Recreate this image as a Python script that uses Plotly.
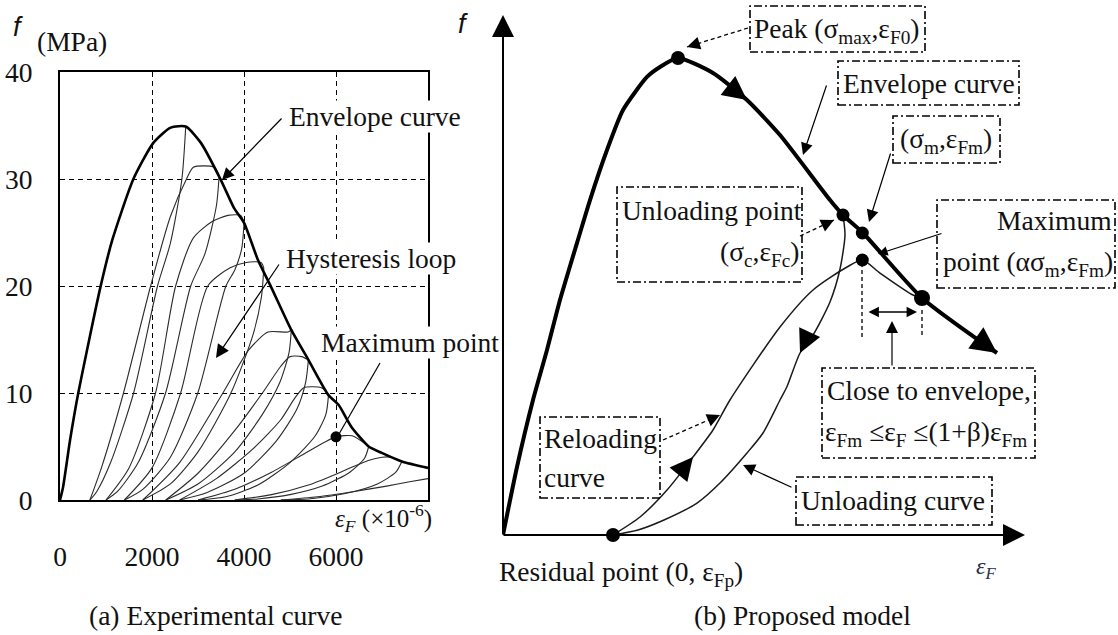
import plotly.graph_objects as go

W, H = 1118, 635
SERIF = "Liberation Serif, Tinos, Times New Roman, DejaVu Serif, serif"
INK = "#111111"

# ---------------- (a) experimental record: strain (x1e-6) vs stress (MPa) ----------------
env_strain = [0, 66, 219, 393, 874, 1137, 1596, 2033, 2405, 2733, 3060, 3498, 3782, 4001,
              4306, 4590, 5028, 5400, 5837, 6055, 6340, 6711, 6995, 7432, 8000]
env_stress = [0, 1.2, 5.6, 9.9, 19.8, 24.3, 30.0, 33.4, 34.8, 34.9, 33.4, 29.9, 27.3, 25.9,
              22.4, 19.9, 15.9, 13.1, 9.8, 8.9, 6.8, 5.0, 4.4, 3.6, 3.0]

# unloading branches of the hysteresis loops
unload_strain = [
    [2733, 2650, 2400, 2120, 1600, 1100, 800, 650],
    [3460, 3400, 3150, 2842, 2295, 1700, 1250, 1000],
    [4001, 3950, 3800, 3607, 2995, 2400, 1800, 1400],
    [4430, 4380, 4200, 3716, 3000, 2400, 1800],
    [5028, 4980, 4780, 4400, 3800, 3000, 2300],
    [5400, 5340, 5150, 4700, 4000, 3200, 2600],
    [5837, 5780, 5550, 5000, 4300, 3600, 3000],
    [6711, 6620, 6300, 5700, 5000, 4300, 3800],
    [7432, 7300, 6900, 6200, 5400, 4800],
]
unload_stress = [
    [34.9, 30.0, 24.0, 20.0, 10.0, 3.5, 0.8, 0],
    [30.3, 27.5, 23.0, 20.0, 10.0, 3.5, 0.8, 0],
    [25.9, 23.5, 21.5, 20.0, 10.0, 4.0, 1.0, 0],
    [21.7, 19.0, 15.5, 10.0, 4.5, 1.5, 0],
    [15.9, 13.8, 11.0, 8.0, 4.5, 1.5, 0],
    [13.1, 11.0, 8.5, 5.5, 2.5, 0.7, 0],
    [9.8, 8.0, 6.0, 3.5, 1.4, 0.3, 0],
    [5.0, 3.9, 2.6, 1.3, 0.5, 0.1, 0],
    [3.6, 2.6, 1.5, 0.6, 0.1, 0],
]

# reloading branches of the hysteresis loops
reload_strain = [
    [650, 900, 1380, 1970, 2400, 2750, 2900, 3350, 3460],
    [1000, 1500, 2077, 2514, 2900, 3300, 3650, 3930, 4001],
    [1400, 2000, 2623, 3213, 3700, 4050, 4370, 4430],
    [1800, 2600, 3541, 4100, 4520, 4960, 5028],
    [2300, 3000, 3800, 4400, 4800, 5000, 5250, 5400],
    [2600, 3400, 4200, 4800, 5100, 5300, 5680, 5800],
    [3000, 3800, 4600, 5300, 5750, 6000, 6350, 6711],
    [3800, 4600, 5400, 6100, 6700, 7000, 7200, 7432],
    [4800, 5600, 6400, 7100, 7600, 8000],
]
reload_stress = [
    [0, 3.0, 10.0, 20.0, 26.5, 30.0, 31.1, 31.1, 30.3],
    [0, 3.0, 10.0, 20.0, 24.5, 26.0, 26.6, 26.6, 25.9],
    [0, 3.0, 10.0, 20.0, 21.7, 22.2, 22.2, 21.7],
    [0, 3.5, 10.0, 14.0, 15.7, 15.7, 15.9],
    [0, 2.5, 6.5, 10.0, 12.5, 13.4, 13.4, 13.1],
    [0, 2.0, 4.8, 7.5, 9.5, 10.5, 10.5, 10.1],
    [0, 1.0, 2.6, 4.3, 5.4, 5.9, 6.0, 5.0],
    [0, 0.5, 1.4, 2.6, 3.7, 4.0, 4.0, 3.6],
    [0, 0.3, 0.8, 1.3, 1.7, 2.0],
]

max_point_strain = [6000]
max_point_stress = [5.9]

x_ticks = [0, 2000, 4000, 6000]
x_ticklabels = ["0", "2000", "4000", "6000"]
y_ticks = [0, 10, 20, 30, 40]
y_ticklabels = ["0", "10", "20", "30", "40"]

# ---------------- (b) proposed model: normalised strain / stress ----------------
model_env_strain = [0, 2.69, 5.77, 8.46, 10.96, 14.81, 16.73, 20.0, 23.08, 27.69, 30.19, 33.65,
                    40.38, 46.92, 53.27, 62.88, 65.38, 69.23, 80.58, 95.0]
model_env_stress = [0, 13.08, 25.96, 35.58, 45.19, 58.08, 64.42, 74.04, 81.73, 88.08, 90.0, 91.73,
                    88.85, 83.65, 76.92, 64.42, 61.54, 58.08, 45.58, 35.0]

model_reload_strain = [21.15, 26.35, 31.54, 36.54, 40.38, 43.65, 53.27, 59.62, 66.15, 69.1,
                       72.5, 78.85, 80.58]
model_reload_stress = [0, 3.46, 8.65, 15.0, 20.19, 25.96, 40.0, 47.12, 51.54, 52.88,
                       50.38, 46.15, 45.58]

model_unload_strain = [65.38, 65.77, 64.81, 62.88, 59.62, 57.12, 54.6, 53.27, 50.0, 46.92,
                       41.73, 37.31, 30.96, 25.96, 21.15]
model_unload_stress = [61.54, 57.69, 51.15, 44.81, 38.46, 35.0, 28.5, 25.96, 19.62, 15.77,
                       10.0, 6.15, 2.88, 0.96, 0]

# peak, unloading point, (sigma_m, eps_Fm), maximum point, return to envelope, residual point
key_strain = [33.65, 65.38, 69.1, 69.1, 80.58, 21.15]
key_stress = [91.73, 61.54, 58.08, 52.88, 45.58, 0]
key_size = [14, 13, 13, 13, 16, 14]


def px(x):
    return x / W


def py(y):
    return 1 - y / H


fig = go.Figure()

# ----- panel (a) -----
for xs, ys in zip(unload_strain, unload_stress):
    fig.add_trace(go.Scatter(x=xs, y=ys, mode="lines", xaxis="x", yaxis="y",
                             line=dict(color="#2b2b2b", width=1.1, shape="spline", smoothing=0.7),
                             hoverinfo="skip"))
for xs, ys in zip(reload_strain, reload_stress):
    fig.add_trace(go.Scatter(x=xs, y=ys, mode="lines", xaxis="x", yaxis="y",
                             line=dict(color="#2b2b2b", width=1.1, shape="spline", smoothing=0.7),
                             hoverinfo="skip"))
fig.add_trace(go.Scatter(x=env_strain, y=env_stress, mode="lines", xaxis="x", yaxis="y",
                         line=dict(color="black", width=2.6, shape="spline", smoothing=0.6),
                         hoverinfo="skip"))
fig.add_trace(go.Scatter(x=max_point_strain, y=max_point_stress, mode="markers", xaxis="x", yaxis="y",
                         marker=dict(color="black", size=11, opacity=1, line=dict(width=0)),
                         hoverinfo="skip"))

# ----- panel (b) -----
fig.add_trace(go.Scatter(x=model_reload_strain, y=model_reload_stress, mode="lines", xaxis="x2", yaxis="y2",
                         line=dict(color="#1a1a1a", width=1.5, shape="spline", smoothing=0.7),
                         hoverinfo="skip", cliponaxis=False))
fig.add_trace(go.Scatter(x=model_unload_strain, y=model_unload_stress, mode="lines", xaxis="x2", yaxis="y2",
                         line=dict(color="#1a1a1a", width=1.5, shape="spline", smoothing=0.7),
                         hoverinfo="skip", cliponaxis=False))
fig.add_trace(go.Scatter(x=model_env_strain, y=model_env_stress, mode="lines", xaxis="x2", yaxis="y2",
                         line=dict(color="black", width=4, shape="spline", smoothing=0.6),
                         hoverinfo="skip", cliponaxis=False))
fig.add_trace(go.Scatter(x=key_strain, y=key_stress, mode="markers", xaxis="x2", yaxis="y2",
                         marker=dict(color="black", size=key_size, opacity=1, line=dict(width=0)),
                         hoverinfo="skip", cliponaxis=False))

shapes = []
annotations = []


def label(text, x, y, xanchor="left", size=27.5, bg="rgba(0,0,0,0)", family=SERIF, color=INK):
    annotations.append(dict(text=text, x=px(x), y=py(y), xref="paper", yref="paper",
                            xanchor=xanchor, yanchor="middle", showarrow=False, bgcolor=bg,
                            borderpad=0, font=dict(family=family, size=size, color=color)))


def arrow(hx, hy, tx, ty, size=2.0, width=1.2, side="end"):
    annotations.append(dict(text="", x=px(hx), y=py(hy), xref="paper", yref="paper",
                            ax=tx - hx, ay=ty - hy, axref="pixel", ayref="pixel",
                            showarrow=True, arrowhead=2, arrowsize=size, arrowwidth=width,
                            arrowcolor="black", arrowside=side))


def line(x0, y0, x1, y1, dash="solid", width=1.3):
    shapes.append(dict(type="line", xref="paper", yref="paper", x0=px(x0), y0=py(y0),
                       x1=px(x1), y1=py(y1), line=dict(color="black", width=width, dash=dash)))


def dashed_arrow(hx, hy, tx, ty):
    line(tx, ty, hx, hy, dash="4px,3px")
    d = ((tx - hx) ** 2 + (ty - hy) ** 2) ** 0.5
    k = 9 / d
    arrow(hx, hy, hx + (tx - hx) * k, hy + (ty - hy) * k, size=2.0, width=1.3)


def box(x0, y0, x1, y1):
    shapes.append(dict(type="rect", xref="paper", yref="paper", x0=px(x0), y0=py(y1),
                       x1=px(x1), y1=py(y0), layer="above", fillcolor="rgba(0,0,0,0)",
                       line=dict(color="black", width=1.6, dash="8px,3px,2px,3px")))


def curve_head(xd, yd, ax, ay, size=2.2, width=2):
    annotations.append(dict(text="", x=xd, y=yd, xref="x2", yref="y2", ax=ax, ay=ay,
                            axref="pixel", ayref="pixel", showarrow=True, arrowhead=2,
                            arrowsize=size, arrowwidth=width, arrowcolor="black"))


# panel (a) labels
label("<i>f</i>", 18, 27, xanchor="center", size=27, family="Liberation Sans, Arial, sans-serif")
label("(MPa)", 72, 41, xanchor="center")
label("<i>ε<sub>F</sub></i> (×10<sup>-6</sup>)", 334, 518, size=25)
label("Envelope curve", 288, 117, bg="white")
arrow(222, 180, 283, 117, size=2.0, width=1.2)
label("Hysteresis loop", 285, 258, bg="white")
arrow(216, 358, 280, 263, size=2.2, width=1.2)
label("Maximum point", 320, 343, bg="white")
line(380, 363, 339, 434, width=1.2)
label("(a) Experimental curve", 215, 615, xanchor="center")

# panel (b) axes with arrowheads
arrow(503, 15, 503, 536, size=2.2, width=2)
arrow(1025, 535, 502, 535, size=2.2, width=2)
label("<i>f</i>", 463, 24, xanchor="center", size=27, family="Liberation Sans, Arial, sans-serif")
label("<i>ε<sub>F</sub></i>", 986, 568, xanchor="center", size=24, color="#25304a")
label("Residual point (0, ε<sub>Fp</sub>)", 498, 573)
label("(b) Proposed model", 802, 615, xanchor="center")

# direction marks on the model curves
curve_head(model_env_strain[13], model_env_stress[13], -13, -10, size=2.4)
curve_head(model_env_strain[19], model_env_stress[19], -14, -10, size=2.6)
curve_head(model_unload_strain[5], model_unload_stress[5], 6, -13, size=2.3)
curve_head(model_reload_strain[3], model_reload_stress[3], -9, 11, size=2.3)

# annotated boxes
box(750, 6, 925, 52)
label("Peak (σ<sub>max</sub>,ε<sub>F0</sub>)", 753, 30)
dashed_arrow(687, 47, 748, 28)

box(838, 61, 1019, 105)
label("Envelope curve", 842, 83)
arrow(803, 155, 827, 84, size=2.0, width=1.2)

box(893, 116, 1000, 163)
label("(σ<sub>m</sub>,ε<sub>Fm</sub>)", 946, 140, xanchor="center")
arrow(869, 222, 891, 152, size=2.0, width=1.2)

box(617, 187, 802, 282)
label("Unloading point", 803, 210, xanchor="right")
label("(σ<sub>c</sub>,ε<sub>Fc</sub>)", 800, 253, xanchor="right")
dashed_arrow(834, 220, 800, 236)

box(937, 200, 1115, 288)
label("Maximum", 1113, 220, xanchor="right")
label("point (ασ<sub>m</sub>,ε<sub>Fm</sub>)", 1114, 263, xanchor="right")
arrow(878, 254, 943, 233, size=1.6, width=1.2)

line(862, 263, 862, 337, dash="4px,3px", width=1.3)
line(922, 310, 922, 337, dash="4px,3px", width=1.3)
arrow(917, 312, 867, 312, size=1.6, width=1.3, side="end+start")

box(822, 368, 1035, 458)
label("Close to envelope,", 826, 390)
label("ε<sub>Fm</sub> ≤ε<sub>F</sub> ≤(1+β)ε<sub>Fm</sub>", 824, 433)
arrow(892, 321, 892, 367, size=2.0, width=1.2)

box(540, 417, 660, 498)
label("Reloading", 543, 438)
label("curve", 543, 477)
dashed_arrow(720, 415, 663, 440)

box(796, 477, 992, 525)
label("Unloading curve", 800, 500)
arrow(743, 465, 793, 488, size=2.0, width=1.2)

tickfont = dict(family=SERIF, size=27.5, color=INK)
fig.update_layout(
    template="none",
    width=W, height=H, autosize=False,
    margin=dict(l=0, r=0, t=0, b=0, pad=0, autoexpand=False),
    paper_bgcolor="white", plot_bgcolor="white", showlegend=False,
    font=dict(family=SERIF, color=INK),
    xaxis=dict(domain=[px(60), px(428)], range=[0, 8000], anchor="y", automargin=False,
               tickvals=x_ticks, ticktext=x_ticklabels, tickfont=tickfont, ticks="",
               ticklabelstandoff=31, showline=True, mirror=True, linecolor="black", linewidth=2,
               showgrid=True, gridcolor="black", gridwidth=1.4, griddash="5px,4px",
               zeroline=False, fixedrange=True),
    yaxis=dict(domain=[py(500), py(72)], range=[0, 40], anchor="x", automargin=False,
               tickvals=y_ticks, ticktext=y_ticklabels, tickfont=tickfont, ticks="",
               ticklabelstandoff=20, showline=True, mirror=True, linecolor="black", linewidth=2,
               showgrid=True, gridcolor="black", gridwidth=1.4, griddash="5px,4px",
               zeroline=False, fixedrange=True),
    xaxis2=dict(domain=[px(503), px(503 + 5.2 * 102)], range=[0, 102], anchor="y2",
                automargin=False, visible=False, fixedrange=True),
    yaxis2=dict(domain=[py(535), py(535 - 5.2 * 101)], range=[0, 101], anchor="x2",
                automargin=False, visible=False, fixedrange=True),
    shapes=shapes,
    annotations=annotations,
)

fig.write_html("out.html")
